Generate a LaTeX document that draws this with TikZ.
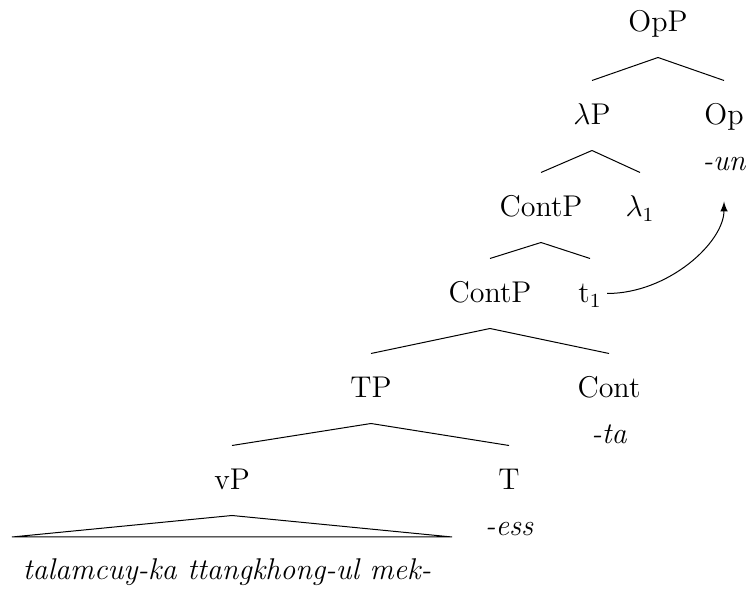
\documentclass[tikz,border=0pt]{standalone}
\usepackage{amsmath}
\usepackage{tikz}
\usetikzlibrary{positioning}

\tikzset{
    cat/.style={inner sep=0pt, anchor=base, text height=17.6pt, text depth=10pt},
    mor/.style={inner sep=0pt, font=\fontsize{12}{14}\selectfont\itshape, text height=8pt, text depth=2pt}
}

\begin{document}
\begin{tikzpicture}[x=0.4pt, y=-0.4pt, every node/.append style={font=\fontsize{12}{14}\selectfont}]
    \useasboundingbox (0,0) rectangle (752,590);

    \node[cat] (opp) at (658,32) {OpP};
    \node[cat] (lamp) at (592,125) {$\lambda$P};
    \node[cat] (op) at (724,125) {Op};
    \node[mor, below=0pt of op] (un) {-un};

    \node[cat] (contp) at (541,217) {ContP};
    \node[cat] (lam) at (640,217) {$\lambda_1$};

    \node[cat] (contpb) at (490,303) {ContP};
    \node[cat] (trace) at (590,303) {t$_1$};

    \node[cat] (tp) at (371,398) {TP};
    \node[cat] (cont) at (609,398) {Cont};
    \node[mor, below=0pt of cont] (ta) {-ta};

    \node[cat] (vp) at (232,490) {vP};
    \node[cat] (t) at (509,490) {T};
    \node[mor, below=0pt of t] (ess) {-ess};

    \coordinate (triL) at (12,537);
    \coordinate (triR) at (452,537);
    \node[mor, anchor=base] (words) at (227,580) {talamcuy-ka ttangkhong-ul mek-};

    \draw (opp.south) -- (lamp.north);
    \draw (opp.south) -- (op.north);
    \draw (lamp.south) -- (contp.north);
    \draw (lamp.south) -- (lam.north);
    \draw (contp.south) -- (contpb.north);
    \draw (contp.south) -- (trace.north);
    \draw (contpb.south) -- (tp.north);
    \draw (contpb.south) -- (cont.north);
    \draw (tp.south) -- (vp.north);
    \draw (tp.south) -- (t.north);
    \draw (vp.south) -- (triL) -- (triR) -- cycle;

    \draw[-latex, shorten <=2pt, shorten >=10pt] (trace.east) to[out=0, in=-90] (un.south);
\end{tikzpicture}
\end{document}
